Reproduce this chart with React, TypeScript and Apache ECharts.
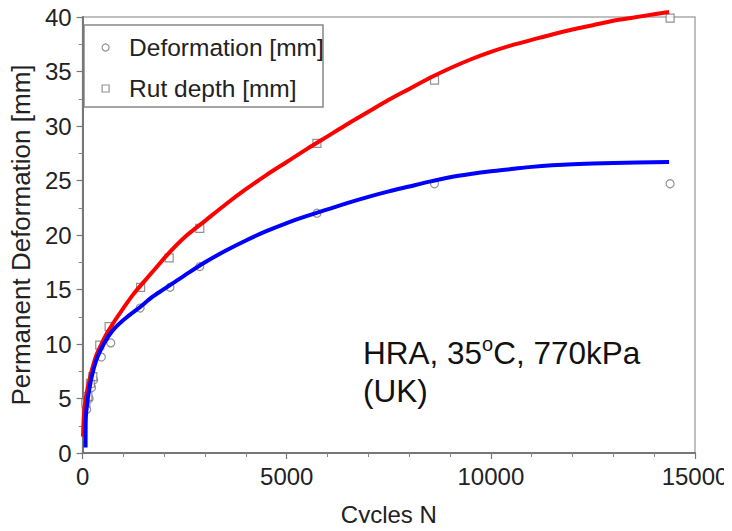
import React, { useEffect, useRef } from "react";
import * as echarts from "echarts";

// Measured points (cycles N, value mm)
const deformationN = [100, 160, 220, 270, 460, 690, 1410, 2140, 2870, 5740, 8620, 14390];
const deformationMM = [4.0, 5.0, 6.0, 6.7, 8.8, 10.1, 13.3, 15.2, 17.1, 22.0, 24.7, 24.7];

const rutN = [80, 130, 190, 250, 420, 650, 1420, 2120, 2870, 5740, 8620, 14390];
const rutMM = [4.6, 5.2, 6.4, 7.0, 9.9, 11.6, 15.2, 17.9, 20.6, 28.4, 34.2, 39.9];

// Fitted curves
const redCurveN = [10, 30, 60, 100, 150, 220, 320, 450, 600, 800, 1000, 1250, 1500, 1800, 2100, 2500, 3000, 3500, 4000, 4500, 5000, 5500, 6000, 6500, 7000, 7500, 8000, 8500, 9000, 9500, 10000, 10500, 11000, 11500, 12000, 12500, 13000, 13500, 14000, 14365];
const redCurveMM = [1.5, 3.3, 4.6, 5.5, 6.4, 7.5, 8.8, 9.9, 11.0, 12.2, 13.3, 14.6, 15.7, 17.0, 18.3, 19.8, 21.3, 22.8, 24.2, 25.5, 26.7, 27.9, 29.05, 30.2, 31.3, 32.4, 33.4, 34.4, 35.3, 36.1, 36.8, 37.4, 37.9, 38.4, 38.85, 39.25, 39.65, 39.95, 40.25, 40.45];

const blueCurveN = [73, 74, 76, 85, 105, 130, 163, 200, 243, 300, 365, 450, 550, 650, 800, 1000, 1200, 1410, 1700, 2000, 2140, 2500, 3000, 3500, 4000, 4500, 5000, 5500, 6000, 6500, 7000, 7500, 8000, 8500, 9000, 9500, 10000, 10500, 11000, 11500, 12000, 13000, 14365];
const blueCurveMM = [0.5, 1.8, 2.8, 3.6, 4.3, 5.1, 5.8, 6.6, 7.3, 8.1, 8.8, 9.5, 10.2, 10.8, 11.5, 12.2, 12.8, 13.4, 14.3, 15.05, 15.4, 16.3, 17.5, 18.55, 19.5, 20.35, 21.1, 21.75, 22.35, 22.95, 23.5, 24.0, 24.45, 24.9, 25.3, 25.6, 25.85, 26.05, 26.25, 26.4, 26.5, 26.6, 26.7];

const seriesNames = ["Deformation [mm]", "Rut depth [mm]"];
const xAxisTitle = "Cycles N";
const yAxisTitle = "Permanent Deformation [mm]";

const FONT = "'Liberation Sans', Arial, Helvetica, sans-serif";

const zip = (xs: number[], ys: number[]) => xs.map((x, i) => [x, ys[i]]);

export default function App() {
  const ref = useRef<HTMLDivElement>(null);

  useEffect(() => {
    if (!ref.current) return;
    const chart = echarts.init(ref.current, null, { renderer: "svg" });
    const markerStyle = { color: "#ffffff", borderColor: "#777777", borderWidth: 1.2 };
    chart.setOption({
      animation: false,
      backgroundColor: "#ffffff",
      textStyle: { fontFamily: FONT },
      grid: {
        left: 79,
        right: 37,
        top: 17,
        bottom: 78,
        show: true,
        borderColor: "#aaaaaa",
        borderWidth: 1.5,
        backgroundColor: "transparent",
      },
      xAxis: {
        type: "value",
        min: 0,
        max: 15000,
        interval: 5000,
        name: xAxisTitle,
        nameLocation: "middle",
        nameGap: 49,
        nameTextStyle: { fontSize: 24, color: "#222", fontFamily: FONT },
        axisLine: { show: true, lineStyle: { color: "#777", width: 2 } },
        axisTick: { show: true, inside: false, length: 6, lineStyle: { color: "#777", width: 1.2 } },
        minorTick: { show: true, splitNumber: 5, length: 4, lineStyle: { color: "#888", width: 1 } },
        splitLine: { show: false },
        axisLabel: {
          fontSize: 24,
          color: "#222",
          margin: 11,
          fontFamily: FONT,
          formatter: (v: number) => String(v),
        },
      },
      yAxis: {
        type: "value",
        min: 0,
        max: 40,
        interval: 5,
        name: yAxisTitle,
        nameLocation: "middle",
        nameGap: 44,
        nameTextStyle: { fontSize: 26, color: "#222", fontFamily: FONT },
        axisLine: { show: true, lineStyle: { color: "#777", width: 2 } },
        axisTick: { show: true, inside: false, length: 6, lineStyle: { color: "#777", width: 1.2 } },
        minorTick: { show: true, splitNumber: 2, length: 4, lineStyle: { color: "#888", width: 1 } },
        splitLine: { show: false },
        axisLabel: { fontSize: 24, color: "#222", margin: 11, fontFamily: FONT },
      },
      legend: {
        show: true,
        orient: "vertical",
        left: 101.5,
        top: 35,
        padding: 0,
        itemWidth: 7,
        itemHeight: 7,
        itemGap: 16,
        textStyle: { fontSize: 24.5, color: "#222", lineHeight: 24, fontFamily: FONT, padding: [0, 0, 0, 15] },
        data: [
          { name: seriesNames[0], icon: "circle", itemStyle: markerStyle },
          { name: seriesNames[1], icon: "rect", itemStyle: markerStyle },
        ],
      },
      graphic: [
        {
          type: "rect",
          shape: { x: 84, y: 25, width: 239, height: 82 },
          style: { fill: "transparent", stroke: "#888888", lineWidth: 1.5 },
          z: 0,
        },
        {
          type: "text",
          x: 363,
          y: 334,
          style: {
            text: "HRA, 35{sup|o}C, 770kPa\n(UK)",
            fontSize: 31.5,
            lineHeight: 38,
            fontFamily: FONT,
            fill: "#111",
            verticalAlign: "top",
            rich: {
              sup: { fontSize: 20, lineHeight: 18, verticalAlign: "top", fill: "#111", fontFamily: FONT },
            },
          },
          z: 10,
        },
      ],
      series: [
        {
          name: seriesNames[0],
          type: "scatter",
          symbol: "circle",
          symbolSize: 8,
          itemStyle: markerStyle,
          data: zip(deformationN, deformationMM),
          clip: false,
          z: 2,
        },
        {
          name: seriesNames[1],
          type: "scatter",
          symbol: "rect",
          symbolSize: 8,
          itemStyle: markerStyle,
          data: zip(rutN, rutMM),
          clip: false,
          z: 2,
        },
        {
          name: "rut-fit",
          type: "line",
          data: zip(redCurveN, redCurveMM),
          smooth: 0.3,
          showSymbol: false,
          symbol: "none",
          lineStyle: { color: "#ff0000", width: 4 },
          clip: false,
          z: 3,
        },
        {
          name: "def-fit",
          type: "line",
          data: zip(blueCurveN, blueCurveMM),
          smooth: 0.3,
          showSymbol: false,
          symbol: "none",
          lineStyle: { color: "#0000ff", width: 4 },
          clip: false,
          z: 4,
        },
      ],
    });
    return () => chart.dispose();
  }, []);

  return <div ref={ref} style={{ width: 732, height: 531, margin: -8 }} />;
}
